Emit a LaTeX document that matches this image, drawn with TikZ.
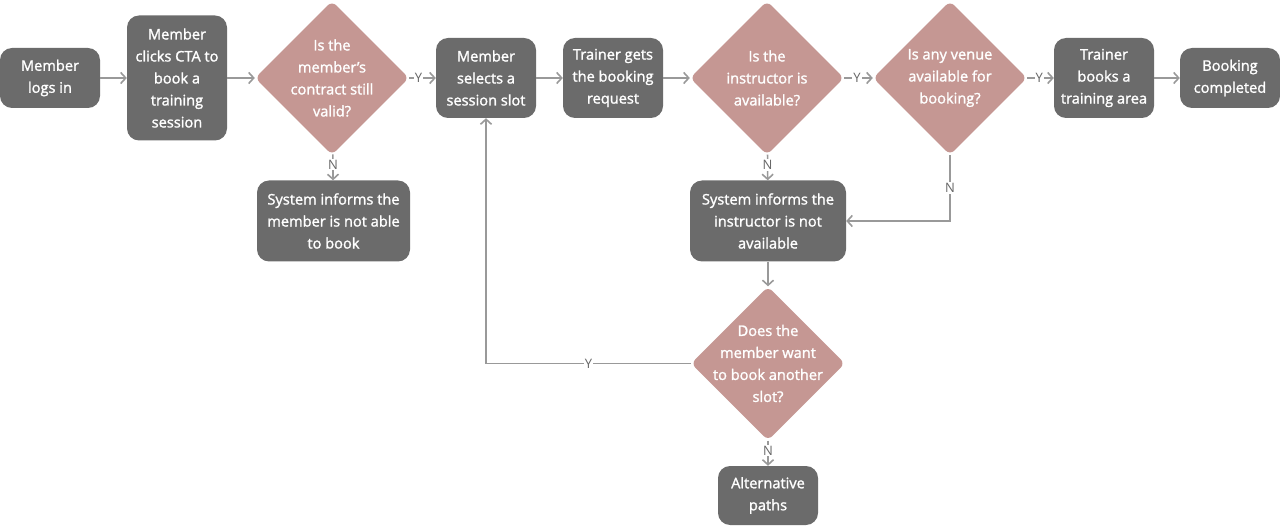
\documentclass[tikz,border=0pt]{standalone}
\usepackage{fontspec}
\setmainfont{Open Sans}
\newfontfamily\semib{Open Sans}[FakeBold=1.5]
\usetikzlibrary{shapes.geometric,arrows.meta}
\definecolor{boxc}{HTML}{6B6B6B}
\definecolor{diac}{HTML}{C59793}
\definecolor{linec}{HTML}{999999}
\definecolor{labc}{HTML}{666666}
\tikzset{
  box/.style={draw=none,fill=boxc,rounded corners=12pt,text=white,align=center,
    font=\semib\fontsize{14.6}{22}\selectfont,inner sep=0pt},
  dia/.style={diamond,fill=diac,draw=none,rounded corners=6pt,minimum width=154pt,minimum height=154pt,inner sep=0pt},
  dtext/.style={text=white,align=center,font=\semib\fontsize{14.6}{22}\selectfont},
  conn/.style={draw=linec,line width=1.6pt,-{Straight Barb[length=5pt,width=11pt,line width=1.6pt]}},
  lab/.style={fill=white,text=labc,inner sep=1pt,font=\fontsize{13}{13}\selectfont}
}
\begin{document}
\begin{tikzpicture}[x=1pt,y=-1pt]
\useasboundingbox (0,0) rectangle (1280,526);
% boxes
\node[box,minimum width=100pt,minimum height=60pt] (b1) at (50,78) {Member\\logs in};
\node[box,minimum width=100pt,minimum height=125pt] (b2) at (177,78) {Member\\clicks CTA to\\book a\\training\\session};
\node[dia] (d1) at (332,78) {};
\node[dtext] at (d1) {Is the\\member’s\\contract still\\valid?};
\node[box,minimum width=100pt,minimum height=80pt] (b4) at (486,78) {Member\\selects a\\session slot};
\node[box,minimum width=100pt,minimum height=80pt] (b5) at (613,78) {Trainer gets\\the booking\\request};
\node[dia] (d2) at (767,78) {};
\node[dtext] at (d2) {Is the\\instructor is\\available?};
\node[dia] (d3) at (950,78) {};
\node[dtext] at (d3) {Is any venue\\available for\\booking?};
\node[box,minimum width=100pt,minimum height=80pt] (b8) at (1104,78) {Trainer\\books a\\training area};
\node[box,minimum width=100pt,minimum height=60pt] (b9) at (1230,78) {Booking\\completed};
\node[box,minimum width=153pt,minimum height=81pt] (b10) at (333.5,221) {System informs the\\member is not able\\to book};
\node[box,minimum width=156pt,minimum height=81pt] (b11) at (768,221) {System informs the\\instructor is not\\available};
\node[dia] (d4) at (768,363.5) {};
\node[dtext] at (d4) {Does the\\member want\\to book another\\slot?};
\node[box,minimum width=100pt,minimum height=59pt] (b13) at (768,495.5) {Alternative\\paths};
% connectors
\draw[conn] (b1) -- (b2);
\draw[conn] (b2) -- (d1);
\draw[conn] (d1) -- node[lab,pos=0.35]{Y} (b4);
\draw[conn] (d1) -- node[lab,pos=0.4]{N} (b10);
\draw[conn] (b4) -- (b5);
\draw[conn] (b5) -- (d2);
\draw[conn] (d2) -- node[lab,pos=0.45]{Y} (d3);
\draw[conn] (d3) -- node[lab,pos=0.45]{Y} (b8);
\draw[conn] (b8) -- (b9);
\draw[conn] (d2) -- node[lab,pos=0.4]{N} (b11);
\draw[conn] (d3.south) |- node[lab,pos=0.25]{N} (b11.east);
\draw[conn] (b11) -- (d4);
\draw[conn] (d4.west) -| node[lab,pos=0.25]{Y} (b4.south);
\draw[conn] (d4) -- node[lab,pos=0.4]{N} (b13);
\end{tikzpicture}
\end{document}
